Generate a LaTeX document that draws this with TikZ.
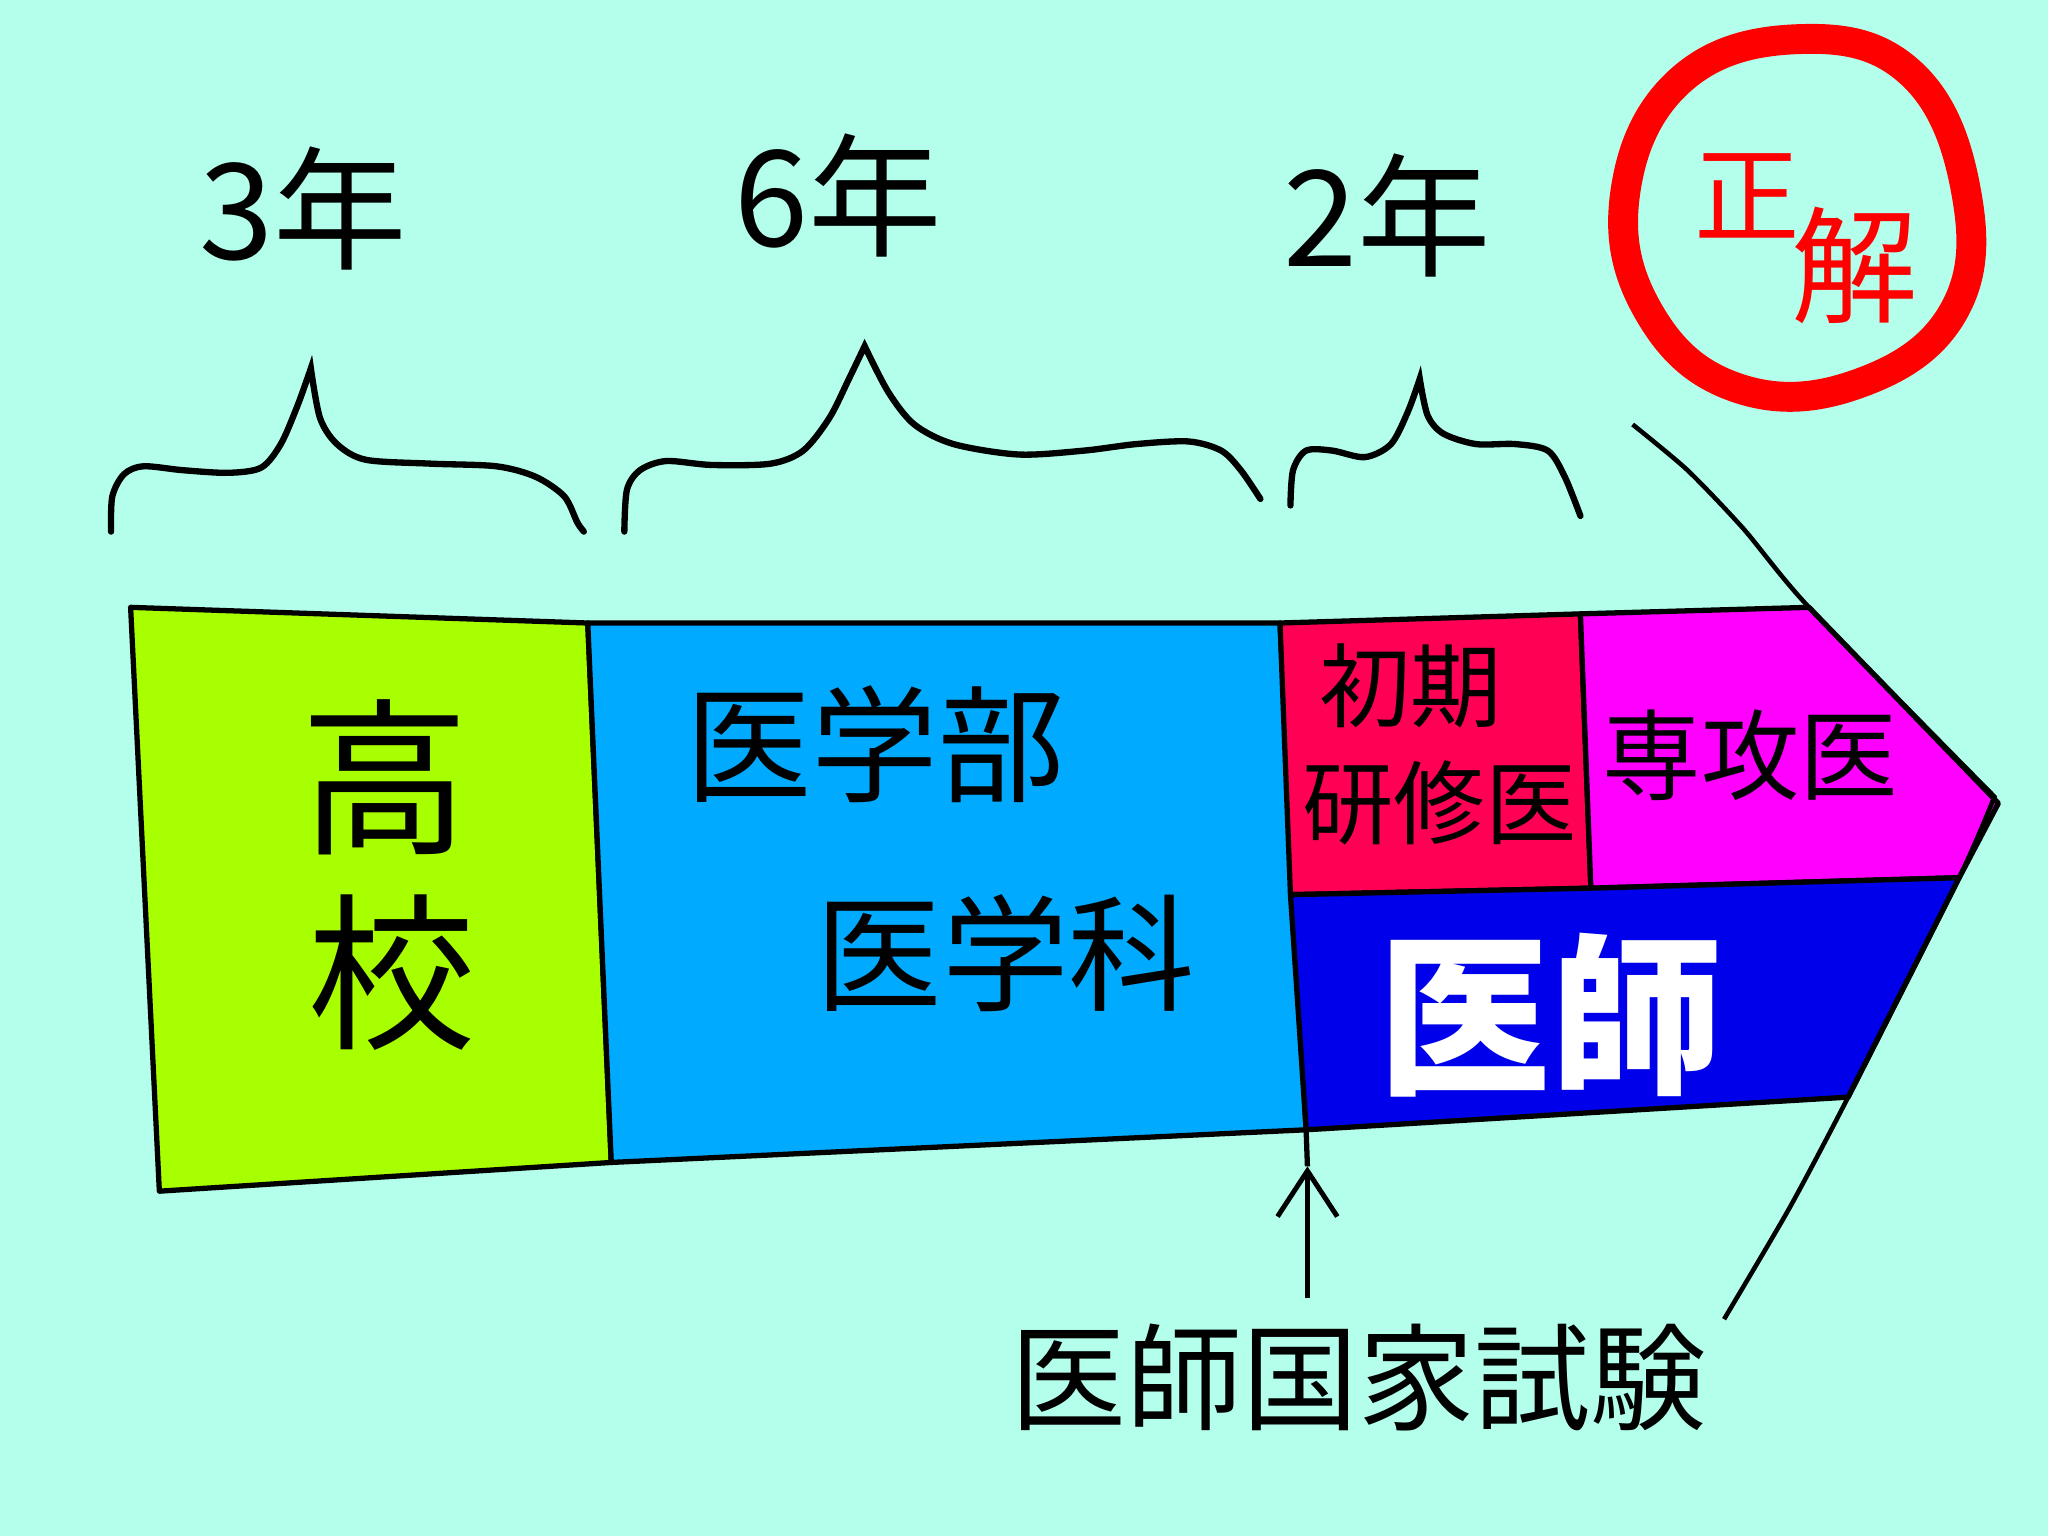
\documentclass[tikz,border=0pt]{standalone}
\usepackage{fontspec}
\newfontfamily\jpfont{Noto Sans CJK JP}
\usetikzlibrary{arrows.meta}
\definecolor{bgaqua}{RGB}{179,255,236}
\definecolor{kokogreen}{RGB}{168,255,0}
\definecolor{igakublue}{RGB}{0,170,255}
\definecolor{kenshured}{RGB}{255,0,85}
\definecolor{senkoumag}{RGB}{255,0,255}
\definecolor{ishiblue}{RGB}{0,0,235}

\begin{document}
\begin{tikzpicture}[x=0.01306cm,y=-0.01306cm,
  every node/.style={font=\jpfont},
  stage/.style={draw=black,line width=1.5pt,line join=round},
  brace/.style={line width=1.8pt,line cap=round},
  yearlbl/.style={font=\jpfont\fontsize{38}{38}\selectfont},
  examarrow/.style={line width=1.4pt,-{Straight Barb[length=13pt,width=17pt]}}]
\fill[bgaqua] (0,0) rectangle (1568,1176);
\useasboundingbox (0,0) rectangle (1568,1176);
% stages
\filldraw[stage,fill=kokogreen] (100,465) -- (450,477) -- (468,890) -- (122,912) -- cycle;
\filldraw[stage,fill=igakublue] (450,477) -- (980,477) -- (1000,865) -- (468,890) -- cycle;
\filldraw[stage,fill=kenshured] (980,477) -- (1210,470) -- (1218,680) -- (988,685) -- cycle;
\filldraw[stage,fill=senkoumag] (1210,470) -- (1385,465) -- (1530,615) -- (1500,672) -- (1218,680) -- cycle;
\filldraw[stage,fill=ishiblue] (988,685) -- (1218,680) -- (1500,672) -- (1415,840) -- (1000,865) -- cycle;
\coordinate (passline) at (1001,893);
\draw[stage] (1000,865) -- (passline);
% arrow outline
\draw[line width=1.3pt] plot[smooth,tension=0.4] coordinates {(1250,325) (1292,360) (1335,405) (1385,465) (1527,610)}
  -- plot[smooth,tension=0.4] coordinates {(1527,610) (1500,672) (1415,840) (1370,925) (1320,1010)};
% braces
\draw[brace] plot[smooth] coordinates {(85,407) (86,380) (95,363) (110,357) (140,360) (175,362) (200,358) (215,340) (228,310) (238,282)}
  -- plot[smooth] coordinates {(238,282) (245,320) (258,340) (280,352) (330,355) (380,357) (410,365) (432,380) (442,400) (447,407)};
\draw[brace] plot[smooth] coordinates {(478,407) (480,375) (490,360) (510,353) (545,356) (590,355) (615,345) (635,320) (650,290) (662,265)}
  -- plot[smooth] coordinates {(662,265) (680,300) (700,325) (730,340) (780,348) (830,345) (870,340) (910,338) (935,345) (950,360) (965,382)};
\draw[brace] plot[smooth] coordinates {(988,387) (990,360) (1000,345) (1020,345) (1045,350) (1065,340) (1078,315) (1087,290)}
  -- plot[smooth] coordinates {(1087,290) (1093,318) (1105,332) (1130,340) (1160,340) (1185,345) (1198,365) (1210,395)};
% years
\node[yearlbl] (year3) at (232,160) {3年};
\node[yearlbl] (year6) at (642,150) {6年};
\node[yearlbl] (year2) at (1062,165) {2年};
% stage labels
\node[font=\jpfont\fontsize{48}{48}\selectfont] (koko1) at (295,595) {高};
\node[font=\jpfont\fontsize{48}{48}\selectfont] (koko2) at (300,745) {校};
\node[font=\jpfont\fontsize{36}{36}\selectfont] (igaku1) at (670,570) {医学部};
\node[font=\jpfont\fontsize{36}{36}\selectfont] (igaku2) at (770,730) {医学科};
\node[font=\jpfont\fontsize{26}{26}\selectfont] (shoki) at (1080,525) {初期};
\node[font=\jpfont\fontsize{26}{26}\selectfont] (kenshu) at (1102,615) {研修医};
\node[font=\jpfont\fontsize{28}{28}\selectfont] (senkou) at (1340,578) {専攻医};
\node[font=\jpfont\bfseries\fontsize{49}{49}\selectfont,text=white] (ishi) at (1187,777) {医師};
% exam
\node[font=\jpfont\fontsize{33}{33}\selectfont] (exam) at (1040,1055) {医師国家試験};
\draw[examarrow,shorten <=4pt] (exam.north -| passline) -- (passline);
% seikai
\draw[red,line width=8.5pt] plot[smooth cycle,tension=0.7] coordinates {(1376,30) (1462,55) (1505,145) (1496,238) (1422,294) (1330,297) (1263,240) (1244,150) (1286,62)};
\node[font=\jpfont\fontsize{30}{30}\selectfont,text=red] (sei) at (1338,150) {正};
\node[font=\jpfont\fontsize{36}{36}\selectfont,text=red] (kai) at (1420,203) {解};
\end{tikzpicture}
\end{document}
